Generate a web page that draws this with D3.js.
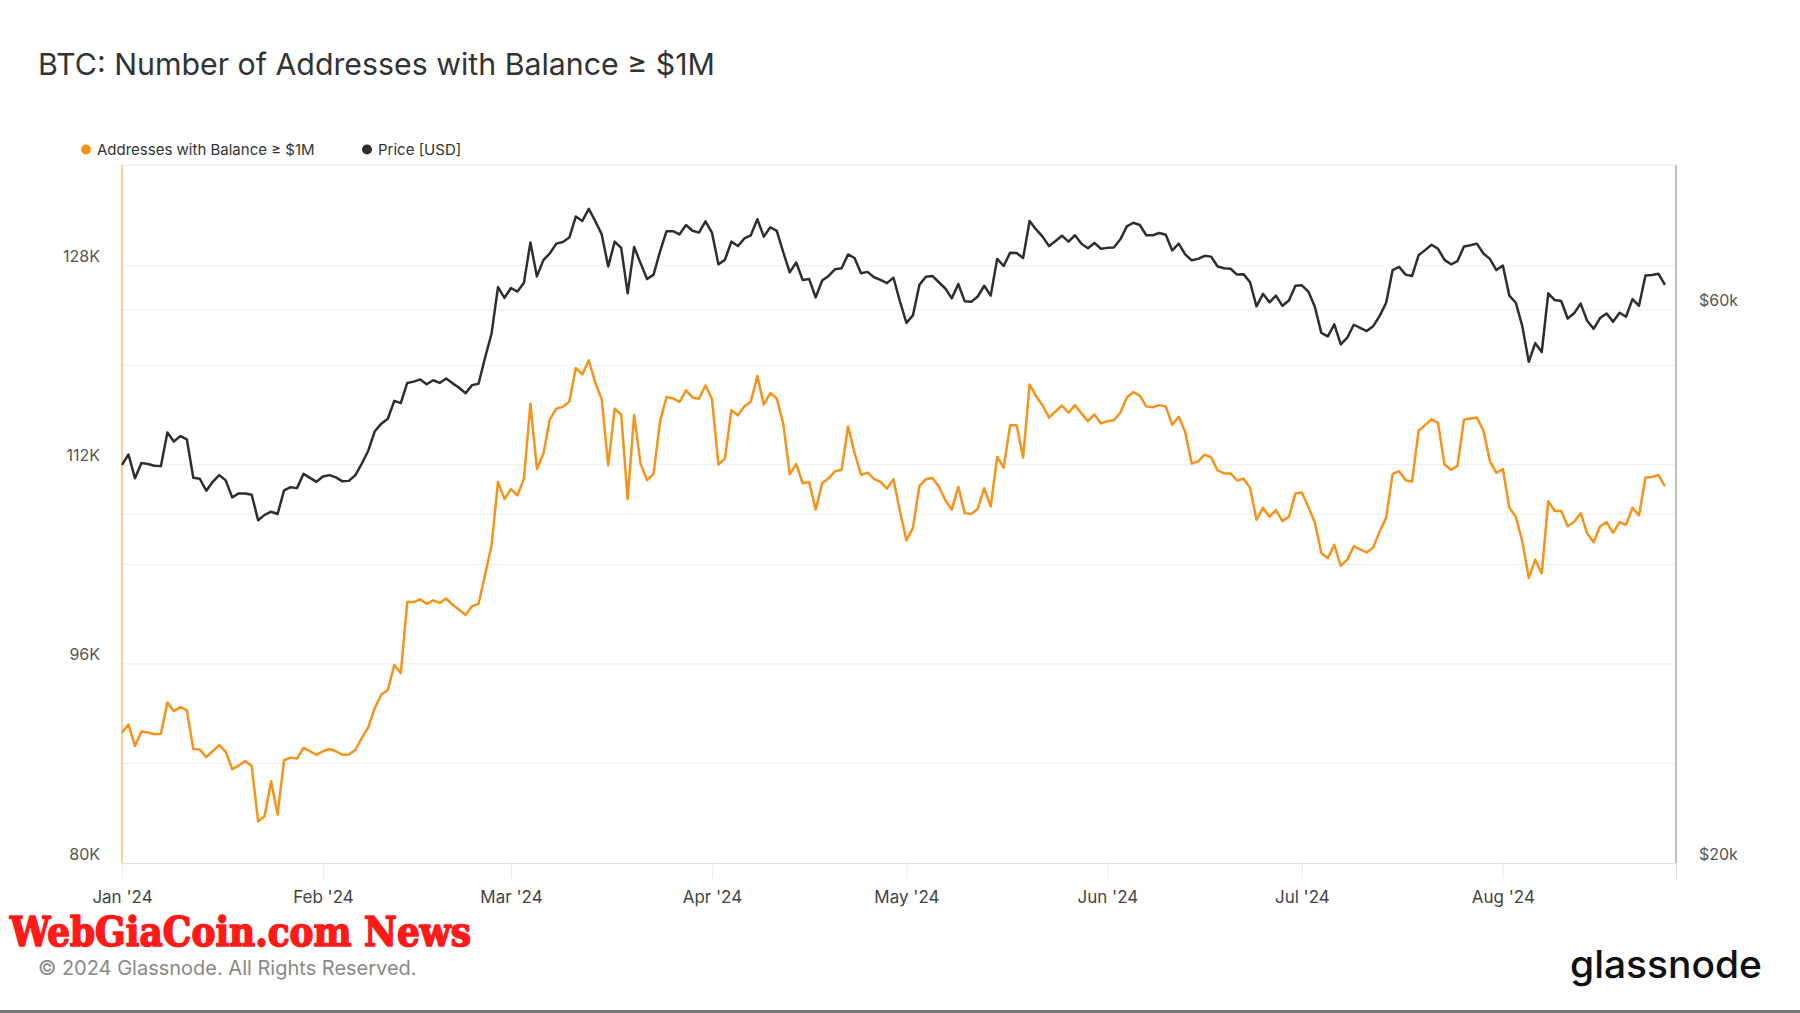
<!DOCTYPE html>
<html><head><meta charset="utf-8">
<script src="https://cdn.jsdelivr.net/npm/d3@7"></script>
<style>
html,body{margin:0;padding:0;background:#fff;}
svg{display:block;}
</style></head>
<body>
<svg id="chart" width="1800" height="1013"></svg>
<script>
// ---------- DATA ----------
const startDate = "2024-01-01"; // daily series, one value per day
const addresses = [
90490,91130,89410,90560,90490,90340,90380,92890,92210,92530,
92280,89160,89120,88510,88980,89480,88940,87540,87830,88190,
87790,83340,83770,86570,83880,88260,88470,88400,89260,88980,
88690,88980,89160,88980,88690,88730,89080,90050,90920,92460,
93540,93900,95910,95260,100970,100970,101190,100830,101110,100900,
101260,100750,100360,99930,100650,100830,103160,105490,110630,109260,
110050,109550,110880,116910,111670,112900,115660,116520,116660,117090,
119780,119280,120400,118600,117270,111960,116520,116050,109230,116010,
112060,110770,111280,115510,117450,117340,117060,117990,117420,117310,
118380,117310,112030,112500,116410,115980,116700,117090,119140,116840,
117770,117340,115330,111240,112060,110520,110630,108400,110520,110920,
111490,111600,115080,112960,111200,111380,110880,110630,110090,110840,
108290,105930,106930,110310,110840,110950,110270,109160,108400,110230,
108120,108040,108470,110120,108650,112640,111780,115190,115190,112570,
118460,117520,116770,115800,116300,116770,116190,116800,116120,115510,
116050,115330,115510,115580,116190,117420,117850,117560,116700,116630,
116800,116700,115220,115870,114650,112100,112280,112820,112600,111560,
111310,111310,110740,110880,110160,107580,108550,107830,108370,107470,
107830,109700,109770,108620,107360,104920,104490,105570,103880,104380,
105460,105210,104960,105350,106640,107760,111280,111490,110770,110660,
114720,115190,115660,115370,112030,111600,111920,115620,115730,115800,
114760,112320,111350,111670,108550,107830,105850,102910,104380,103270,
109080,108290,108290,107070,107430,108120,106500,105780,107070,107400,
106540,107400,107180,108550,107940,110990,111020,111200,110270
];
const price = [
44100,45020,42940,44260,44180,44030,43990,47020,46190,46690,
46400,42980,42900,41890,42640,43210,42760,41340,41670,41670,
41560,39510,39930,40180,40000,41930,42190,42110,43320,42980,
42640,43100,43210,43020,42680,42720,43210,44220,45380,47150,
47860,48330,50080,49860,51890,52030,52260,51760,52170,51890,
52360,51850,51390,50850,51670,51810,54550,57220,62770,61440,
62660,62220,63330,68590,64120,66230,67130,68430,68650,69270,
72220,71580,73320,71580,69700,65400,68710,67860,62000,67980,
65800,63780,64350,67400,70140,70140,69700,71010,70200,69950,
71520,69950,65680,66260,68710,68100,69140,69580,71840,69390,
70700,70200,67270,64640,65920,63670,63780,61500,63610,64180,
65050,65160,66980,66510,64520,64700,64010,63670,63270,63950,
61020,58460,59340,63050,64070,64180,63380,62600,61390,63160,
61020,60960,61610,62940,61720,66390,65460,67220,67160,66510,
71580,70390,69390,68100,68780,69520,68710,69580,68430,67800,
68530,67740,67860,67920,69020,70820,71330,71010,69580,69580,
69890,69640,67520,68430,66980,66210,66390,66800,66690,65400,
65160,65100,64350,64410,63380,60420,61940,60910,61720,60480,
61120,62940,62990,62220,60370,57320,56920,58300,56020,56770,
58250,57880,57530,58090,59290,60850,64930,65340,64350,64180,
66860,67560,68290,67740,66260,65680,66100,68040,68220,68430,
67100,66390,64930,65510,61720,60850,58090,54120,56160,55180,
62000,61180,61070,58980,59600,60750,58710,57780,59030,59560,
58610,59660,59190,61290,60480,64240,64300,64460,63050
];
const seriesNames = ["Addresses with Balance \u2265 $1M", "Price [USD]"];
const leftTickValues = [80000, 96000, 112000, 128000];
const leftGridValues = [88000, 96000, 104000, 112000, 120000, 128000];
const rightTickValues = [20000, 60000];
const rightGridValues = [40000, 60000];

// ---------- LAYOUT ----------
const C = {orange:"#f7931a", dark:"#2e2e2e", grid:"#ededed", axisGray:"#a8a8a8"};
const P = {left:122, right:1676, top:165, bottom:863};
const svg = d3.select("#chart");

const t0 = d3.utcParse("%Y-%m-%d")(startDate);
const dates = addresses.map((_, i) => d3.utcDay.offset(t0, i));
const tEnd = d3.utcHour.offset(d3.utcDay.offset(t0, 239), 17);

const x = d3.scaleUtc().domain([t0, tEnd]).range([P.left, P.right]);
const yL = d3.scaleLinear().domain([80000, 136100]).range([P.bottom, P.top]);
const yR = d3.scaleLog().domain([20000, 80000]).range([P.bottom, P.top]);

// Title
svg.append("text").attr("x", 38).attr("y", 75)
  .attr("font-family", "Inter, sans-serif").attr("font-size", 30.3)
  .attr("fill", "#333").text("BTC: Number of Addresses with Balance \u2265 $1M");

// Legend
const legend = [
  {name: seriesNames[0], color: C.orange, cx: 86, tx: 97},
  {name: seriesNames[1], color: C.dark, cx: 367, tx: 378}
];
legend.forEach(l => {
  svg.append("circle").attr("cx", l.cx).attr("cy", 149.5).attr("r", 5).attr("fill", l.color);
  svg.append("text").attr("x", l.tx).attr("y", 155)
    .attr("font-family", "Inter, sans-serif").attr("font-size", 15)
    .attr("fill", "#333").text(l.name);
});

// Gridlines
const g = svg.append("g");
g.selectAll(".gl").data(leftGridValues).join("line")
  .attr("x1", P.left).attr("x2", P.right)
  .attr("y1", d => yL(d)).attr("y2", d => yL(d))
  .attr("stroke", C.grid).attr("stroke-width", 1);
g.selectAll(".gr").data(rightGridValues).join("line")
  .attr("x1", P.left).attr("x2", P.right)
  .attr("y1", d => yR(d)).attr("y2", d => yR(d))
  .attr("stroke", C.grid).attr("stroke-width", 1);
g.append("line").attr("x1", P.left).attr("x2", P.right).attr("y1", P.top).attr("y2", P.top)
  .attr("stroke", "#e6e6e6");

// X axis
const xAxis = d3.axisBottom(x).ticks(d3.utcMonth.every(1))
  .tickFormat(d3.utcFormat("%b '%y")).tickSize(15).tickPadding(0);
const gx = svg.append("g").attr("transform", `translate(0,${P.bottom})`).call(xAxis);
gx.select(".domain").attr("stroke", "#dcdcdc");
gx.selectAll(".tick line").attr("stroke", "#ececec");
gx.selectAll(".tick text").attr("y", 40).attr("dy", 0)
  .attr("font-family", "Inter, sans-serif").attr("font-size", 17).attr("fill", "#444");

// Left axis
const yAxisL = d3.axisLeft(yL).tickValues(leftTickValues)
  .tickFormat(d => (d / 1000) + "K").tickSize(0).tickPadding(22);
const gyl = svg.append("g").attr("transform", `translate(${P.left},0)`).call(yAxisL);
gyl.select(".domain").remove();
gyl.selectAll(".tick text").attr("dy", "-0.25em")
  .attr("font-family", "Inter, sans-serif").attr("font-size", 16).attr("fill", "#555");
svg.append("line").attr("x1", P.left).attr("x2", P.left).attr("y1", P.top).attr("y2", P.bottom)
  .attr("stroke", C.orange).attr("stroke-opacity", 0.6).attr("stroke-width", 1.5);

// Right axis
const yAxisR = d3.axisRight(yR).tickValues(rightTickValues)
  .tickFormat(d => "$" + (d / 1000) + "k").tickSize(0).tickPadding(23);
const gyr = svg.append("g").attr("transform", `translate(${P.right},0)`).call(yAxisR);
gyr.select(".domain").remove();
gyr.selectAll(".tick text").attr("dy", "-0.25em")
  .attr("font-family", "Inter, sans-serif").attr("font-size", 16).attr("fill", "#555");
svg.append("line").attr("x1", P.right).attr("x2", P.right).attr("y1", P.top).attr("y2", P.bottom)
  .attr("stroke", C.axisGray).attr("stroke-width", 1.5);

// Lines
const lineL = d3.line().x((d, i) => x(dates[i])).y(d => yL(d));
const lineR = d3.line().x((d, i) => x(dates[i])).y(d => yR(d));
svg.append("path").datum(price).attr("d", lineR)
  .attr("fill", "none").attr("stroke", C.dark).attr("stroke-width", 2.5)
  .attr("stroke-linejoin", "round");
svg.append("path").datum(addresses).attr("d", lineL)
  .attr("fill", "none").attr("stroke", C.orange).attr("stroke-width", 2.5)
  .attr("stroke-linejoin", "round");

// Watermark
svg.append("text").attr("x", 10).attr("y", 946)
  .attr("font-family", "'DejaVu Serif Condensed', 'DejaVu Serif', serif")
  .attr("font-weight", "bold").attr("font-size", 41).attr("fill", "#ff1a1a")
  .attr("stroke", "#ff1a1a").attr("stroke-width", 1.6).attr("stroke-linejoin", "round")
  .attr("textLength", 461).attr("lengthAdjust", "spacingAndGlyphs")
  .text("WebGiaCoin.com News");

// Footer
svg.append("text").attr("x", 38).attr("y", 975)
  .attr("font-family", "Inter, sans-serif").attr("font-size", 20).attr("fill", "#888")
  .text("\u00a9 2024 Glassnode. All Rights Reserved.");
svg.append("text").attr("x", 1570).attr("y", 978)
  .attr("font-family", "Inter, sans-serif").attr("font-weight", 500).attr("font-size", 38)
  .attr("fill", "#111").attr("textLength", 192).attr("lengthAdjust", "spacingAndGlyphs")
  .text("glassnode");
svg.append("rect").attr("x", 0).attr("y", 1010).attr("width", 1800).attr("height", 3).attr("fill", "#777");
</script>
</body></html>
